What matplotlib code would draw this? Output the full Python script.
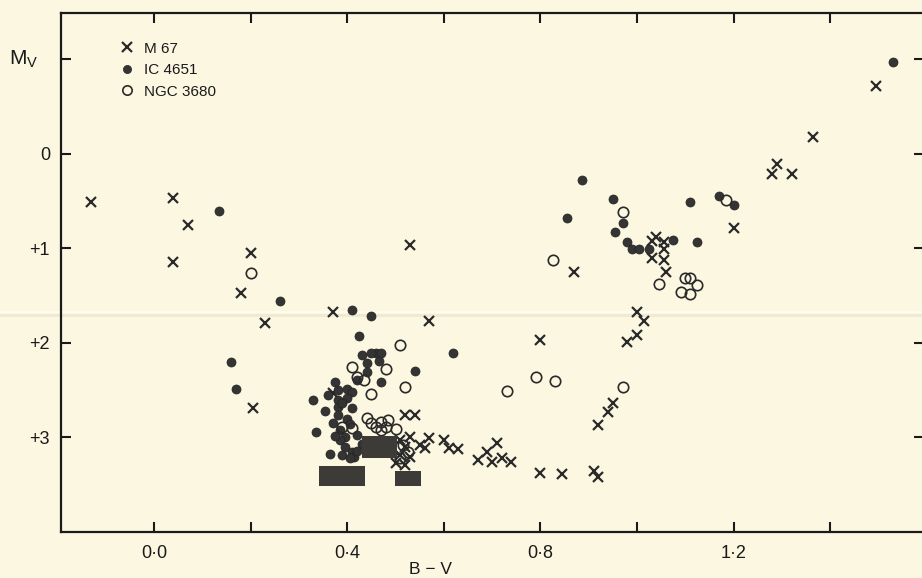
import matplotlib
matplotlib.use("Agg")
import matplotlib.pyplot as plt
from matplotlib.lines import Line2D

plt.rcParams['font.family'] = ['Liberation Sans', 'DejaVu Sans']
plt.rcParams['mathtext.fontset'] = 'custom'
plt.rcParams['mathtext.rm'] = 'Liberation Sans'
plt.rcParams['mathtext.it'] = 'Liberation Sans'

# ---- data (B-V, M_V) ----
m67_bv = [-0.13, 0.04, 0.07, 0.04, 0.20, 0.18, 0.23, 0.205, 0.37, 0.53, 0.57, 0.37,
          0.52, 0.54, 0.51, 0.53, 0.52, 0.55, 0.57, 0.56, 0.51, 0.53, 0.50, 0.52,
          0.60, 0.61, 0.63, 0.67, 0.69, 0.70, 0.71, 0.72, 0.74, 0.80, 0.80, 0.845,
          0.91, 0.92, 0.92, 0.94, 0.95, 0.87, 0.98, 1.00, 1.00, 1.015, 1.03, 1.04,
          1.055, 1.055, 1.03, 1.055, 1.06, 1.20, 1.28, 1.29, 1.32, 1.365, 1.495]
m67_mv = [0.51, 0.47, 0.75, 1.14, 1.05, 1.47, 1.79, 2.69, 1.67, 0.96, 1.77, 2.53,
          2.76, 2.76, 3.03, 2.99, 3.10, 3.08, 3.01, 3.11, 3.19, 3.21, 3.27, 3.29,
          3.03, 3.11, 3.12, 3.24, 3.15, 3.26, 3.06, 3.22, 3.26, 1.97, 3.38, 3.39,
          3.35, 3.42, 2.87, 2.73, 2.63, 1.25, 1.99, 1.92, 1.67, 1.77, 0.92, 0.88,
          0.93, 1.01, 1.10, 1.12, 1.25, 0.78, 0.21, 0.11, 0.21, -0.18, -0.72]

ic4651_bv = [0.135, 0.26, 0.16, 0.17, 0.41, 0.45, 0.425, 0.62, 0.54, 0.46, 0.47,
             0.465, 0.47, 0.43, 0.45, 0.44, 0.44, 0.42, 0.375, 0.38, 0.40, 0.41,
             0.38, 0.40, 0.41, 0.38, 0.38, 0.37, 0.385, 0.395, 0.385, 0.395, 0.39,
             0.41, 0.415, 0.405, 0.33, 0.355, 0.335, 0.365,
             0.36, 0.40, 0.42, 0.43, 0.39, 0.375, 0.42, 0.405,
             0.885, 0.95, 0.855, 0.97, 0.955, 0.98, 0.99, 1.005, 1.025, 1.075,
             1.11, 1.125, 1.17, 1.20, 1.53]
ic4651_mv = [0.60, 1.56, 2.20, 2.49, 1.65, 1.71, 1.93, 2.11, 2.30, 2.11, 2.11,
             2.19, 2.41, 2.13, 2.11, 2.21, 2.31, 2.39, 2.41, 2.50, 2.49, 2.52,
             2.60, 2.58, 2.69, 2.68, 2.76, 2.85, 2.92, 3.00, 3.03, 3.10, 3.19,
             3.15, 3.21, 3.22, 2.60, 2.72, 2.94, 3.17,
             2.55, 2.80, 2.97, 3.07, 2.64, 2.98, 3.14, 2.86,
             0.28, 0.48, 0.68, 0.73, 0.83, 0.93, 1.01, 1.01, 1.01, 0.91,
             0.51, 0.93, 0.44, 0.54, -0.97]

ngc3680_bv = [0.20, 0.825, 0.97, 1.045, 1.10, 1.11, 1.125, 1.09, 1.11, 1.185,
              0.73, 0.79, 0.83, 0.97, 0.51, 0.48, 0.52, 0.45, 0.41, 0.42, 0.435,
              0.41, 0.39, 0.44, 0.45, 0.46, 0.47, 0.48, 0.50, 0.47, 0.485,
              0.516, 0.509, 0.526]
ngc3680_mv = [1.26, 1.12, 0.61, 1.38, 1.31, 1.31, 1.39, 1.46, 1.48, 0.49,
              2.51, 2.36, 2.40, 2.47, 2.02, 2.28, 2.47, 2.54, 2.25, 2.36, 2.39,
              2.90, 2.89, 2.79, 2.85, 2.89, 2.84, 2.89, 2.91, 2.92, 2.81,
              3.08, 3.22, 3.15]

# filled blocks (B-V range, M_V range)
box_bv_lo = [0.342, 0.431, 0.499]
box_bv_hi = [0.437, 0.503, 0.553]
box_mv_top = [3.30, 2.98, 3.35]
box_mv_bot = [3.51, 3.22, 3.51]

xtick_major = [0.0, 0.4, 0.8, 1.2]
xtick_labels = ['0·0', '0·4', '0·8', '1·2']
xtick_minor = [0.2, 0.6, 1.0, 1.4]
ytick_vals = [-1, 0, 1, 2, 3]
ytick_labels = ['', '0', '+1', '+2', '+3']

bg = '#FBF7E1'
ink = '#2a2a2a'

fig = plt.figure(figsize=(9.22, 5.78), dpi=100)
fig.patch.set_facecolor(bg)

# paper crease
fig.add_artist(Line2D([0, 1], [1 - 312/578, 1 - 312/578], color='#fffdf2', lw=1.2, zorder=0))
fig.add_artist(Line2D([0, 1], [1 - 315/578, 1 - 315/578], color='#eee6cc', lw=2.0, alpha=0.8, zorder=0))

ax = fig.add_axes([61/922, 1 - 532/578, 863/922, 519/578])
ax.set_facecolor('none')
ax.set_xlim(-0.1925, 1.594)
ax.set_ylim(4.0, -1.492)

ax.plot(m67_bv, m67_mv, linestyle='none', marker='x', ms=7.5, mew=1.6, color=ink, label='M 67', zorder=3)
ax.plot(ic4651_bv, ic4651_mv, linestyle='none', marker='o', ms=6.5, mew=0.5, mfc='#343434', mec='#222222', label='IC 4651', zorder=3)
ax.plot(ngc3680_bv, ngc3680_mv, linestyle='none', marker='o', ms=7.5, mew=1.2, mfc='none', mec=ink, label='NGC 3680', zorder=3)

for lo, hi, top, bot in zip(box_bv_lo, box_bv_hi, box_mv_top, box_mv_bot):
    ax.bar(lo, bot - top, width=hi - lo, bottom=top, align='edge', color='#3d3b38', edgecolor='none', zorder=4)

for s in ax.spines.values():
    s.set_linewidth(1.6)
    s.set_color('#1a1a1a')

ax.set_xticks(xtick_major)
ax.set_xticklabels(xtick_labels, fontsize=13)
ax.set_xticks(xtick_minor, minor=True)
ax.set_yticks(ytick_vals)
ax.set_yticklabels(ytick_labels, fontsize=13)
ax.tick_params(which='both', direction='in', length=7, width=1.5, top=True, right=True,
               color='#1a1a1a', labelcolor='#1a1a1a')
ax.tick_params(axis='x', which='major', pad=9)
ax.tick_params(axis='y', which='major', pad=8)

ax.text(-0.24, -1, r'M$_{\rm V}$', transform=ax.transData, fontsize=15,
        ha='right', va='center', color='#1a1a1a', clip_on=False)
fig.text(430/922, 1 - 577/578, 'B − V', fontsize=12.5, ha='center', va='bottom',
         color='#1a1a1a')

leg = ax.legend(loc='upper left', bbox_to_anchor=(0.0695, 0.945), frameon=False,
                fontsize=11, handlelength=0.8, handletextpad=0.7, labelspacing=0.5,
                borderpad=0, borderaxespad=0, markerscale=0.9)
for t in leg.get_texts():
    t.set_color('#1a1a1a')

fig.savefig('out.png', dpi=100, facecolor=bg)
